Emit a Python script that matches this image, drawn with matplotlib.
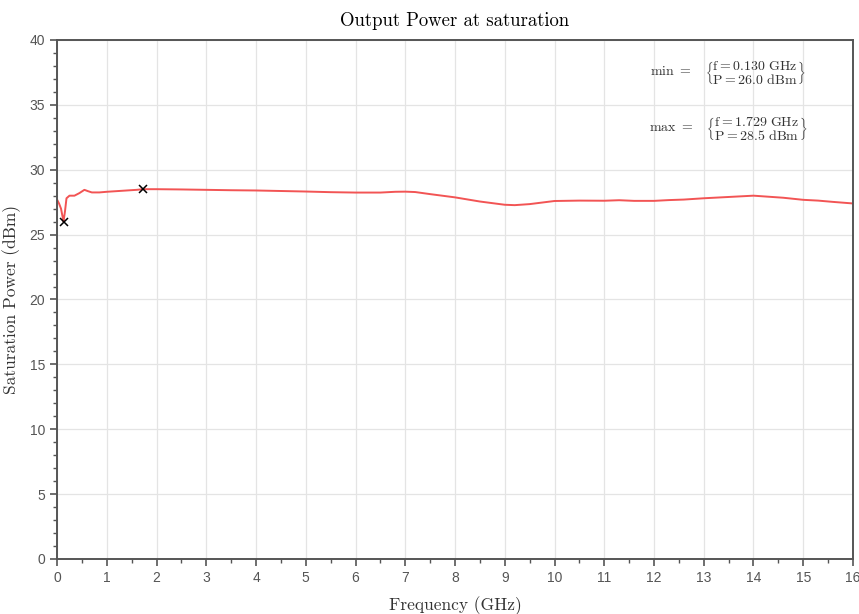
import matplotlib.pyplot as plt
from matplotlib.ticker import MultipleLocator

# -----------------------------------------
# Values (GHz, dBm)

freq_ghz = [0.0, 0.04, 0.08, 0.11, 0.13, 0.16, 0.19, 0.25, 0.35, 0.45, 0.55,
            0.62, 0.7, 0.85, 1.0, 1.2, 1.4, 1.6, 1.729, 2.0, 2.5, 3.0, 3.5,
            4.0, 4.5, 5.0, 5.5, 6.0, 6.5, 6.8, 7.0, 7.2, 7.5, 8.0, 8.5, 9.0,
            9.2, 9.5, 10.0, 10.5, 11.0, 11.3, 11.6, 12.0, 12.3, 12.6, 13.0,
            13.3, 13.6, 14.0, 14.3, 14.6, 15.0, 15.3, 15.6, 16.0]
p_sat_dbm = [27.7, 27.4, 27.0, 26.4, 26.0, 26.8, 27.8, 28.0, 28.0, 28.2, 28.45,
             28.35, 28.25, 28.25, 28.3, 28.35, 28.4, 28.45, 28.5, 28.5, 28.48,
             28.45, 28.42, 28.4, 28.36, 28.32, 28.27, 28.24, 28.24, 28.3, 28.31,
             28.28, 28.12, 27.87, 27.55, 27.3, 27.27, 27.35, 27.59, 27.62,
             27.61, 27.65, 27.6, 27.6, 27.66, 27.7, 27.8, 27.86, 27.92, 28.0,
             27.92, 27.84, 27.68, 27.62, 27.52, 27.4]

min_point = (0.130, 26.0)
max_point = (1.729, 28.5)

plt.rcParams["mathtext.fontset"] = "cm"

# ---------------------
# Figure and axes setup

fig = plt.figure(figsize=(8.59, 6.14), dpi=100)
ax = fig.add_axes([0.0664, 0.0896, 0.9266, 0.8453])

ax.plot(freq_ghz, p_sat_dbm, color="#f25454", linewidth=1.4)
ax.plot(*min_point, marker="x", color="black", markersize=6, mew=1.1)
ax.plot(*max_point, marker="x", color="black", markersize=6, mew=1.1)

ax.set_xlim(0, 16)
ax.set_ylim(0, 40)
ax.xaxis.set_major_locator(MultipleLocator(1))
ax.xaxis.set_minor_locator(MultipleLocator(0.5))
ax.yaxis.set_major_locator(MultipleLocator(5))
ax.yaxis.set_minor_locator(MultipleLocator(1))

ax.grid(True, which="major", color="#e4e4e4", linewidth=0.9)
ax.set_axisbelow(True)

for spine in ax.spines.values():
    spine.set_color("#555555")
    spine.set_linewidth(1.4)

ax.tick_params(which="both", direction="out", color="#555555",
               labelcolor="#555555", labelsize=10, top=False, right=False)
ax.tick_params(which="major", length=5, width=1.2)
ax.tick_params(which="minor", length=3, width=1.0)
for lab in ax.get_xticklabels() + ax.get_yticklabels():
    lab.set_family("Liberation Sans")

# -----------------------
# Serif titles and labels

serif = "cmr10"
ax.set_title("Output Power at saturation", fontsize=13.5, family=serif, pad=10)
ax.set_xlabel("Frequency (GHz)", fontsize=12.5, family=serif, color="#333333", labelpad=8)
ax.set_ylabel("Saturation Power (dBm)", fontsize=12.5, family=serif, color="#333333", labelpad=6)

# ---------------------------
# Min / max annotation blocks

def brace_text(name, pt):
    return (r"$\mathrm{%s}\ =\quad\left\{\genfrac{}{}{0}{0}"
            r"{\mathrm{f} = %.3f\ \mathrm{GHz}}{\mathrm{P} = %.1f\ \mathrm{dBm}}\right\}$"
            % (name, pt[0], pt[1]))

ax.text(0.843, 0.938, brace_text("min", min_point), transform=ax.transAxes,
        fontsize=10, ha="center", va="center", color="#333333")
ax.text(0.843, 0.830, brace_text("max", max_point), transform=ax.transAxes,
        fontsize=10, ha="center", va="center", color="#333333")

fig.savefig("out.png", dpi=100)
